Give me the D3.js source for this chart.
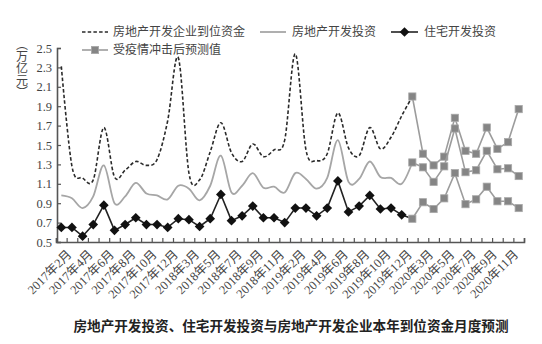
<!DOCTYPE html>
<html><head><meta charset="utf-8">
<script src="https://cdn.jsdelivr.net/npm/d3@7"></script>
<style>body{margin:0;background:#fff;} svg{display:block;}
.vert{writing-mode:vertical-rl;text-orientation:mixed;}
</style>
</head><body>
<svg id="chart" width="542" height="344"></svg>
<script>
const months = [
  "2017年2月","2017年3月","2017年4月","2017年5月","2017年6月","2017年7月","2017年8月","2017年9月","2017年10月","2017年11月","2017年12月",
  "2018年2月","2018年3月","2018年4月","2018年5月","2018年6月","2018年7月","2018年8月","2018年9月","2018年10月","2018年11月","2018年12月",
  "2019年2月","2019年3月","2019年4月","2019年5月","2019年6月","2019年7月","2019年8月","2019年9月","2019年10月","2019年11月","2019年12月",
  "2020年2月","2020年3月","2020年4月","2020年5月","2020年6月","2020年7月","2020年8月","2020年9月","2020年10月","2020年11月","2020年12月"
];
// actual values, 2017年2月 .. 2019年12月
const fundsActual = [2.31,1.28,1.16,1.14,1.68,1.17,1.24,1.33,1.29,1.35,1.75,2.40,1.21,1.14,1.43,1.73,1.42,1.33,1.51,1.38,1.45,1.55,2.44,1.45,1.34,1.41,1.83,1.47,1.39,1.68,1.46,1.58,1.80];
const investActual = [0.98,0.95,0.85,0.97,1.29,0.90,0.97,1.11,1.00,0.98,0.94,1.08,1.05,0.93,1.08,1.39,1.01,1.08,1.21,1.06,1.07,1.01,1.21,1.15,1.05,1.16,1.55,1.12,1.15,1.33,1.17,1.16,1.10];
const housingActual = [0.65,0.65,0.56,0.68,0.88,0.62,0.68,0.75,0.68,0.68,0.65,0.74,0.73,0.66,0.74,0.99,0.72,0.77,0.87,0.75,0.75,0.70,0.85,0.85,0.77,0.85,1.13,0.81,0.87,0.98,0.84,0.85,0.78];
// forecast values, 2020年2月 .. 2020年12月
const fundsForecast = [2.00,1.41,1.29,1.38,1.78,1.44,1.41,1.68,1.46,1.53,1.87];
const investForecast = [1.32,1.27,1.12,1.28,1.67,1.22,1.24,1.44,1.25,1.26,1.18];
const housingForecast = [0.74,0.91,0.84,0.95,1.21,0.89,0.94,1.07,0.92,0.92,0.85];
const yTicks = [0.5,0.7,0.9,1.1,1.3,1.5,1.7,1.9,2.1,2.3,2.5];
const xLabelStep = 2;
const legendNames = ["房地产开发企业到位资金","房地产开发投资","住宅开发投资","受疫情冲击后预测值"];
const yUnit = "（万亿元）";
const title = "房地产开发投资、住宅开发投资与房地产开发企业本年到位资金月度预测";

const svg = d3.select("#chart");
const serif = "'Liberation Serif','Noto Sans CJK SC',serif";
const cjk = "'Noto Sans CJK SC',sans-serif";

const x = d3.scaleBand().domain(months).range([56, 524]).padding(0);
const cx = m => x(m) + x.bandwidth() / 2;
const y = d3.scaleLinear().domain([0.5, 2.5]).range([242, 48]);
const edge = d3.scaleLinear().domain([0, months.length]).range([56, 524]);

const nA = fundsActual.length;
const actMonths = months.slice(0, nA + 1);
const fcMonths = months.slice(nA);

// axes
const yAxis = svg.append("g").attr("transform", "translate(57,0)")
  .call(d3.axisLeft(y).tickValues(yTicks).tickSize(-4).tickPadding(5).tickFormat(d3.format(".1f")));
yAxis.select(".domain").attr("stroke", "#555").attr("stroke-width", 1.6);
yAxis.selectAll(".tick line").attr("stroke", "#555").attr("stroke-width", 1.2);
yAxis.selectAll("text").attr("font-family", serif).attr("font-size", 12.5).attr("fill", "#444");

const xTicks = svg.append("g").attr("transform", "translate(0,242)")
  .call(d3.axisBottom(edge).tickValues(d3.range(months.length + 1)).tickSize(-4).tickFormat(""));
xTicks.select(".domain").attr("stroke", "#555").attr("stroke-width", 1.6);
xTicks.selectAll(".tick line").attr("stroke", "#555").attr("stroke-width", 1.2);

const xLabels = svg.append("g").attr("transform", "translate(0,242)")
  .call(d3.axisBottom(x).tickValues(months.filter((m, i) => i % xLabelStep === 0)).tickSize(0));
xLabels.select(".domain").remove();
xLabels.selectAll("text")
  .attr("font-family", serif).attr("font-size", 12.5).attr("fill", "#444")
  .attr("text-anchor", "end").attr("x", 0).attr("y", 0).attr("dy", "0.35em")
  .attr("transform", "translate(8,10) rotate(-45)");

// lines
const smooth = d3.line().x(d => cx(d.m)).y(d => y(d.v)).curve(d3.curveCardinal.tension(0));
const straight = d3.line().x(d => cx(d.m)).y(d => y(d.v));

const pair = (ms, vs) => vs.map((v, i) => ({m: ms[i], v}));
const fundsA = pair(actMonths, fundsActual.concat([fundsForecast[0]]));
const investA = pair(actMonths, investActual.concat([investForecast[0]]));
const housingA = pair(actMonths, housingActual.concat([housingForecast[0]]));

svg.append("path").attr("d", smooth(investA)).attr("fill", "none").attr("stroke", "#a6a6a6").attr("stroke-width", 1.8);
svg.append("path").attr("d", smooth(fundsA)).attr("fill", "none").attr("stroke", "#2a2a2a").attr("stroke-width", 1.6).attr("stroke-dasharray", "3.5,2.2");
svg.append("path").attr("d", straight(housingA)).attr("fill", "none").attr("stroke", "#222").attr("stroke-width", 1.6);

const diamond = d3.symbol().type(d3.symbolDiamond2).size(60);
svg.selectAll(".dia").data(housingA.slice(0, nA)).enter().append("path")
  .attr("d", diamond).attr("transform", d => `translate(${cx(d.m)},${y(d.v)})`).attr("fill", "#111");

[fundsForecast, investForecast, housingForecast].forEach(vs => {
  const data = pair(fcMonths, vs);
  svg.append("path").attr("d", straight(data)).attr("fill", "none").attr("stroke", "#9c9c9c").attr("stroke-width", 1.6);
  svg.selectAll(null).data(data).enter().append("rect")
    .attr("x", d => cx(d.m) - 3.6).attr("y", d => y(d.v) - 3.6).attr("width", 7.2).attr("height", 7.2)
    .attr("fill", "#858585").attr("stroke", "#a8a8a8").attr("stroke-width", 0.8);
});

// legend
const lg = svg.append("g").attr("font-family", cjk).attr("font-size", 12).attr("fill", "#444");
lg.append("line").attr("x1", 82).attr("x2", 108).attr("y1", 32).attr("y2", 32).attr("stroke", "#2a2a2a").attr("stroke-width", 1.6).attr("stroke-dasharray", "3.5,2.2");
lg.append("text").attr("x", 113).attr("y", 32).attr("dy", "0.35em").text(legendNames[0]);
lg.append("line").attr("x1", 260).attr("x2", 286).attr("y1", 32).attr("y2", 32).attr("stroke", "#a6a6a6").attr("stroke-width", 1.8);
lg.append("text").attr("x", 292).attr("y", 32).attr("dy", "0.35em").text(legendNames[1]);
lg.append("line").attr("x1", 391).attr("x2", 418).attr("y1", 32).attr("y2", 32).attr("stroke", "#222").attr("stroke-width", 1.6);
lg.append("path").attr("d", diamond).attr("transform", "translate(404.5,32)").attr("fill", "#111");
lg.append("text").attr("x", 424).attr("y", 32).attr("dy", "0.35em").text(legendNames[2]);
lg.append("line").attr("x1", 82).attr("x2", 108).attr("y1", 50).attr("y2", 50).attr("stroke", "#9c9c9c").attr("stroke-width", 1.6);
lg.append("rect").attr("x", 91.4).attr("y", 46.4).attr("width", 7.2).attr("height", 7.2).attr("fill", "#858585").attr("stroke", "#a8a8a8").attr("stroke-width", 0.8);
lg.append("text").attr("x", 113).attr("y", 50).attr("dy", "0.35em").text(legendNames[3]);

// y unit, vertical text
svg.append("text").attr("class", "vert").attr("x", 22).attr("y", 38)
  .attr("font-family", cjk).attr("font-size", 12).attr("fill", "#444")
  .text(yUnit);

// title
svg.append("text").attr("x", 291).attr("y", 326).attr("dy", "0.35em").attr("text-anchor", "middle")
  .attr("font-family", cjk).attr("font-weight", "bold").attr("font-size", 13.6).attr("fill", "#222").text(title);
</script>
</body></html>
